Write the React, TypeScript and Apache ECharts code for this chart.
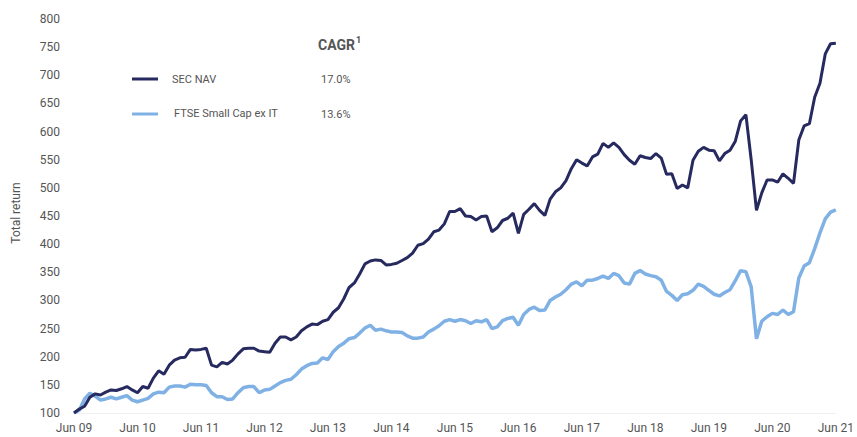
import React, { useEffect, useRef } from "react";
import * as echarts from "echarts";

const monthNames = ["Jun", "Jul", "Aug", "Sep", "Oct", "Nov", "Dec", "Jan", "Feb", "Mar", "Apr", "May"];
const categories: string[] = [];
for (let i = 0; i <= 144; i++) {
  const yr = 9 + Math.floor((i + 5) / 12);
  categories.push(`${monthNames[i % 12]} ${String(yr).padStart(2, "0")}`);
}

const secNav = [
  100, 107, 112, 128, 134, 132, 137, 141, 140, 143, 147, 141,
  136, 147, 144, 162, 175, 169, 185, 194, 198, 199, 213, 212,
  213, 215, 185, 182, 190, 187, 194, 205, 214, 215, 215, 210,
  209, 208, 224, 235, 235, 230, 235, 246, 253, 258, 257, 263,
  266, 279, 287, 303, 323, 331, 347, 365, 370, 372, 371, 363,
  364, 366, 371, 376, 384, 398, 401, 409, 422, 425, 436, 458,
  458, 463, 450, 449, 443, 449, 450, 422, 429, 442, 446, 455,
  419, 453, 462, 472, 460, 451, 480, 493, 500, 513, 534, 550,
  544, 539, 555, 560, 579, 572, 580, 572, 559, 549, 542, 557,
  554, 552, 561, 553, 524, 525, 499, 505, 500, 549, 565, 572,
  567, 566, 548, 561, 567, 583, 619, 630, 550, 460, 491, 514,
  514, 510, 525, 517, 508, 585, 610, 614, 661, 686, 738, 756,
  757,
];

const ftse = [
  100, 105, 125, 135, 130, 123, 125, 128, 125, 128, 131, 123,
  120, 123, 126, 134, 137, 136, 146, 148, 148, 146, 151, 150,
  150, 149, 136, 129, 129, 124, 125, 136, 145, 147, 147, 136,
  141, 142, 148, 154, 158, 160, 168, 178, 184, 188, 189, 198,
  195, 209, 218, 224, 232, 234, 242, 251, 256, 247, 249, 246,
  244, 244, 243, 237, 233, 233, 235, 244, 249, 255, 263, 266,
  263, 266, 264, 259, 264, 262, 266, 250, 253, 264, 268, 270,
  256, 275, 284, 288, 282, 283, 300, 306, 311, 319, 329, 333,
  326, 336, 336, 339, 343, 339, 348, 344, 331, 329, 348, 353,
  347, 344, 342, 336, 316, 309, 300, 310, 312, 318, 329, 325,
  318, 311, 308, 314, 319, 335, 353, 351, 324, 232, 263, 271,
  277, 275, 283, 275, 280, 340, 361, 367, 392, 420, 445, 457,
  461,
];

const seriesNames = ["SEC NAV", "FTSE Small Cap ex IT"];
const cagr = ["17.0%", "13.6%"];
const colors = ["#262a5f", "#80b1e4"];

export default function App() {
  const ref = useRef<HTMLDivElement>(null);
  useEffect(() => {
    if (!ref.current) return;
    const chart = echarts.init(ref.current, undefined, { renderer: "svg" });
    const font = "Roboto, 'Noto Sans', sans-serif";
    const txt = "#555";
    chart.setOption({
      animation: false,
      backgroundColor: "#fff",
      textStyle: { fontFamily: font },
      grid: { left: 74, right: 15, top: 19, bottom: 24 },
      xAxis: {
        type: "category",
        data: categories,
        boundaryGap: false,
        axisLine: { show: true, lineStyle: { color: "#f0f0f0", width: 1 } },
        axisTick: { show: false },
        axisLabel: {
          interval: 11,
          color: txt,
          fontSize: 12,
          margin: 9,
          fontFamily: font,
          showMaxLabel: true,
        },
        splitLine: { show: false },
      },
      yAxis: {
        type: "value",
        min: 100,
        max: 800,
        interval: 50,
        axisLine: { show: false },
        axisTick: { show: false },
        splitLine: { show: false },
        axisLabel: { color: txt, fontSize: 12, margin: 14, fontFamily: font },
      },
      series: [
        {
          name: seriesNames[1],
          type: "line",
          data: ftse,
          symbol: "none",
          lineStyle: { color: colors[1], width: 3.5 },
          z: 2,
        },
        {
          name: seriesNames[0],
          type: "line",
          data: secNav,
          symbol: "none",
          lineStyle: { color: colors[0], width: 3 },
          z: 3,
        },
      ],
      graphic: [
        {
          type: "text",
          x: 16,
          y: 213,
          rotation: Math.PI / 2,
          style: { text: "Total return", fill: txt, font: `12px ${font}`, align: "center", verticalAlign: "middle" },
        },
        {
          type: "text",
          x: 318,
          y: 45,
          style: { text: "CAGR", fill: txt, font: `bold 14px ${font}`, align: "left", verticalAlign: "middle" },
        },
        {
          type: "text",
          x: 356,
          y: 40,
          style: { text: "1", fill: txt, font: `bold 9px ${font}`, align: "left", verticalAlign: "middle" },
        },
        { type: "line", shape: { x1: 132, y1: 79, x2: 158, y2: 79 }, style: { stroke: colors[0], lineWidth: 3 } },
        { type: "line", shape: { x1: 132, y1: 114, x2: 158, y2: 114 }, style: { stroke: colors[1], lineWidth: 3 } },
        {
          type: "text",
          x: 172,
          y: 79,
          style: { text: seriesNames[0], fill: txt, font: `11px ${font}`, align: "left", verticalAlign: "middle" },
        },
        {
          type: "text",
          x: 174,
          y: 113,
          style: { text: seriesNames[1], fill: txt, font: `11px ${font}`, align: "left", verticalAlign: "middle" },
        },
        {
          type: "text",
          x: 321,
          y: 79,
          style: { text: cagr[0], fill: txt, font: `11px ${font}`, align: "left", verticalAlign: "middle" },
        },
        {
          type: "text",
          x: 321,
          y: 114,
          style: { text: cagr[1], fill: txt, font: `11px ${font}`, align: "left", verticalAlign: "middle" },
        },
      ],
    });
    return () => chart.dispose();
  }, []);
  return (
    <div
      ref={ref}
      style={{ position: "fixed", left: 0, top: 0, width: 857, height: 437 }}
    />
  );
}
